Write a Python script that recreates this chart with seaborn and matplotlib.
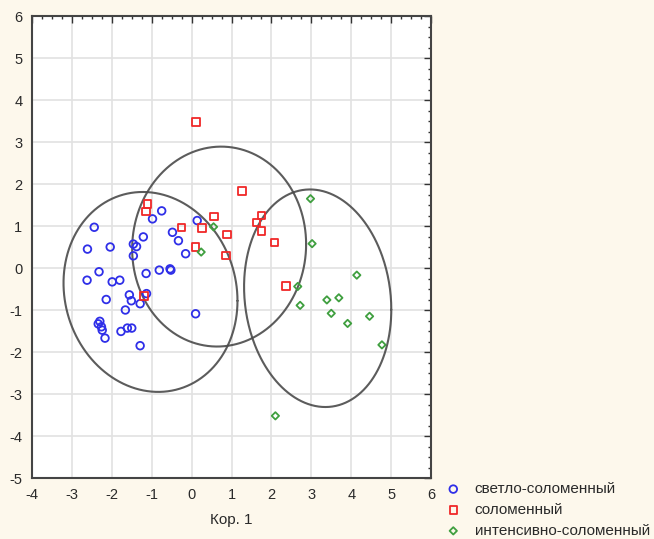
import numpy as np
import pandas as pd
import matplotlib
matplotlib.use("Agg")
import matplotlib.pyplot as plt
from matplotlib.ticker import MultipleLocator
import seaborn as sns

# Scores on the first two discriminant roots, by colour class
light_x = [-0.75, -0.98, -2.44, -0.48, -1.21, -0.33, -1.46, -1.38, -2.61, -2.04,
           -1.46, -0.15, -0.81, -0.54, -0.52, -2.32, -1.14, -2.62, -1.99, -1.80,
           -1.56, -1.13, -2.14, -1.51, -1.29, -1.66, 0.10, -2.30, -2.34, -2.26,
           -2.24, -2.17, -1.77, -1.61, -1.50, -1.29, 0.14]
light_y = [1.36, 1.17, 0.97, 0.85, 0.74, 0.65, 0.57, 0.51, 0.45, 0.50,
           0.29, 0.34, -0.05, -0.02, -0.05, -0.09, -0.13, -0.29, -0.33, -0.29,
           -0.64, -0.61, -0.75, -0.78, -0.85, -1.00, -1.09, -1.27, -1.33, -1.40,
           -1.48, -1.67, -1.51, -1.43, -1.43, -1.85, 1.13]

straw_x = [0.11, 1.26, -1.11, -1.14, 0.56, 1.76, 1.63, 1.75, -0.26, 0.26,
           0.89, 2.08, 0.09, 0.86, -1.19, 2.37]
straw_y = [3.48, 1.83, 1.52, 1.34, 1.23, 1.25, 1.08, 0.88, 0.96, 0.95,
           0.80, 0.60, 0.50, 0.30, -0.67, -0.43]

intense_x = [0.55, 0.24, 2.98, 3.02, 4.14, 2.66, 3.39, 3.69, 2.72, 3.50,
             4.46, 3.91, 4.77, 2.10]
intense_y = [0.98, 0.38, 1.65, 0.58, -0.17, -0.44, -0.76, -0.71, -0.89, -1.08,
             -1.15, -1.32, -1.83, -3.52]

classes = ["светло-соломенный", "соломенный", "интенсивно-соломенный"]

# Confidence ellipses: centre, half-extent along x and y, covariance term
ell_cx = [-1.03, 0.69, 3.16]
ell_cy = [-0.57, 0.51, -0.72]
ell_hx = [2.18, 2.18, 1.845]
ell_hy = [2.38, 2.38, 2.59]
ell_cov = [-0.46, 0.12, -0.50]

x_ticks = [-4, -3, -2, -1, 0, 1, 2, 3, 4, 5, 6]
y_ticks = [-5, -4, -3, -2, -1, 0, 1, 2, 3, 4, 5, 6]

colors = ["#2f2fe8", "#f02828", "#3f9f3f"]
markers = ["o", "s", "D"]
sizes = [30, 28, 14]

df = pd.concat([
    pd.DataFrame({"x": light_x, "y": light_y, "cls": classes[0]}),
    pd.DataFrame({"x": straw_x, "y": straw_y, "cls": classes[1]}),
    pd.DataFrame({"x": intense_x, "y": intense_y, "cls": classes[2]}),
], ignore_index=True)

sns.set_style("white")
plt.rcParams["font.family"] = ["Liberation Sans", "DejaVu Sans"]
plt.rcParams["axes.unicode_minus"] = False

bg = "#fdf8ec"
fig = plt.figure(figsize=(6.54, 5.39), dpi=100, facecolor=bg)
ax = fig.add_axes([32 / 654, 1 - 478 / 539, (431 - 32) / 654, (478 - 16) / 539])
ax.set_facecolor("white")

for gx in x_ticks:
    ax.axvline(gx, color="#e2e2e2", lw=1.2, zorder=0)
for gy in y_ticks:
    ax.axhline(gy, color="#e2e2e2", lw=1.2, zorder=0)

t = np.linspace(0, 2 * np.pi, 400)
for cx, cy, hx, hy, cv in zip(ell_cx, ell_cy, ell_hx, ell_hy, ell_cov):
    k = cv / hx
    ex = cx + hx * np.cos(t)
    ey = cy + k * np.cos(t) + np.sqrt(hy ** 2 - k ** 2) * np.sin(t)
    ax.plot(ex, ey, color="#4a4a4a", lw=1.5, alpha=0.9, zorder=2)

for name, col, mk, sz in zip(classes, colors, markers, sizes):
    sub = df[df["cls"] == name]
    sns.scatterplot(data=sub, x="x", y="y", ax=ax, marker=mk, s=sz,
                    facecolor="none", edgecolor=col, linewidth=1.3,
                    label=name, zorder=3)

ax.set_xlim(-4, 6)
ax.set_ylim(-5, 6)
ax.set_xticks(x_ticks)
ax.set_yticks(y_ticks)
ax.xaxis.set_minor_locator(MultipleLocator(0.25))
ax.yaxis.set_minor_locator(MultipleLocator(0.25))
ax.tick_params(which="both", direction="in", top=True, right=True,
               color="#333333", width=1)
ax.tick_params(which="major", length=5, labelsize=10.5, labelcolor="#2a2a2a", pad=7)
ax.tick_params(which="minor", length=2.5)
for sp in ax.spines.values():
    sp.set_color("#444444")
    sp.set_linewidth(1.5)

ax.set_xlabel("Кор. 1", fontsize=11, color="#2a2a2a", labelpad=8)
ax.set_ylabel("")

ax.legend_.remove()
handles, labels = ax.get_legend_handles_labels()
fig.legend(handles, labels, loc="upper left",
           bbox_to_anchor=(438 / 654, 1 - 476 / 539), frameon=False,
           fontsize=11, labelcolor="#2a2a2a", handletextpad=0.8,
           labelspacing=0.45, borderaxespad=0, handlelength=1.2)

fig.savefig("out.png", dpi=100, facecolor=bg)
